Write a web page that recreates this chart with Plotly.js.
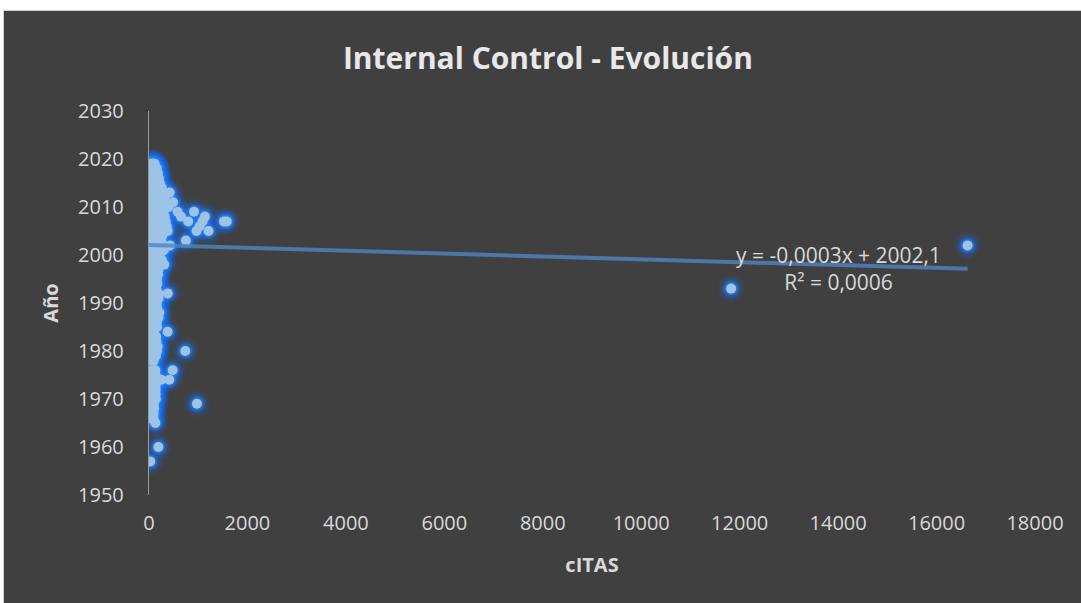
<!DOCTYPE html>
<html>
<head>
<meta charset="utf-8">
<script src="https://cdn.plot.ly/plotly-3.0.1.min.js"></script>
<style>
  html, body { margin: 0; padding: 0; background: #ffffff; width: 1081px; height: 603px; overflow: hidden; }
  #frame { position: absolute; left: 3px; top: 10px; width: 1078px; height: 593px; background: #404040; border-left: 1px solid #d0d0d0; border-top: 1px solid #d0d0d0; }
  #chart { position: absolute; left: 0; top: 0; width: 1077px; height: 592px; }
</style>
</head>
<body>
<div id="frame"><div id="chart"></div></div>
<script>
// Publication year (Año) and citation count (cITAS)
const anio = [
  2019,2019,2019,2019,2019,2019,
  2018,2018,2018,2018,2018,2018,2018,2018,
  2017,2017,2017,2017,2017,2017,2017,2017,
  2016,2016,2016,2016,2016,2016,2016,2016,
  2015,2015,2015,2015,2015,2015,2015,2015,
  2014,2014,2014,2014,2014,2014,2014,2014,
  2013,2013,2013,2013,2013,2013,2013,2013,2013,
  2012,2012,2012,2012,2012,2012,2012,2012,
  2011,2011,2011,2011,2011,2011,2011,2011,2011,
  2010,2010,2010,2010,2010,2010,2010,2010,2010,
  2009,2009,2009,2009,2009,2009,2009,2009,2009,
  2008,2008,2008,2008,2008,2008,2008,2008,2008,
  2007,2007,2007,2007,2007,2007,2007,2007,2007,2007,2007,
  2006,2006,2006,2006,2006,2006,2006,2006,
  2005,2005,2005,2005,2005,2005,2005,2005,2005,
  2004,2004,2004,2004,2004,2004,
  2003,2003,2003,2003,2003,2003,2003,
  2002,2002,2002,2002,2002,2002,2002,2002,
  2001,2001,2001,2001,2001,2001,2001,
  2000,2000,2000,2000,2000,2000,
  1999,1999,1999,1999,1999,1999,1999,
  1998,1998,1998,1998,1998,1998,1998,
  1997,1997,1997,1997,1997,1997,
  1996,1996,1996,1996,1996,1996,
  1995,1995,1995,1995,1995,
  1994,1994,1994,1994,1994,
  1993,1993,1993,1993,1993,
  1992,1992,1992,1992,1992,1992,
  1991,1991,1991,1991,1991,
  1990,1990,1990,1990,
  1989,1989,1989,1989,
  1988,1988,1988,1988,1988,
  1987,1987,1987,1987,1987,
  1986,1986,1986,1986,
  1985,1985,1985,1985,
  1984,1984,1984,
  1983,1983,1983,
  1982,1982,1982,
  1981,1981,1981,1981,
  1980,1980,1980,1980,1980,
  1979,1979,1979,
  1978,1978,
  1976,1976,1976,1976,
  1975,1975,1975,
  1974,1974,1974,1974,1974,
  1973,1973,1973,
  1972,1972,1972,
  1971,1971,1971,
  1970,1970,1970,
  1969,1969,1969,
  1968,1968,
  1967,1967,
  1966,1966,
  1965,
  1960,
  1957
];
const citas = [
  40,55,70,85,100,115,
  35,50,65,80,95,115,140,160,
  30,45,60,80,100,125,150,180,
  30,45,65,85,110,135,165,200,
  25,45,65,90,115,145,180,220,
  25,45,70,95,125,160,200,260,
  30,50,75,100,130,170,220,290,420,
  30,55,80,110,140,180,240,320,
  35,60,90,120,160,210,270,340,490,
  35,60,90,125,170,220,280,350,400,
  40,65,95,130,175,230,300,580,915,
  40,65,100,140,185,240,320,650,1136,
  40,70,105,145,190,250,340,797,1089,1523,1580,
  40,70,110,150,200,260,360,1028,
  40,70,110,155,210,280,380,965,1210,
  35,65,100,145,200,270,
  30,60,95,140,190,250,750,
  30,55,90,130,180,240,425,16630,
  30,55,85,125,170,230,300,
  25,50,80,120,165,220,
  25,50,80,115,160,210,260,
  25,50,80,115,155,200,310,
  25,50,80,115,155,190,
  25,45,75,110,150,185,
  30,55,85,120,160,
  30,60,95,130,170,
  35,65,100,145,11826,
  35,65,100,140,190,380,
  35,65,100,145,195,
  40,75,115,160,
  40,75,115,165,
  35,70,110,155,210,
  35,70,110,150,195,
  40,75,115,160,
  40,75,115,165,
  50,100,378,
  50,95,145,
  50,95,150,
  45,85,130,175,
  40,80,120,165,737,
  45,90,140,
  50,95,
  45,85,130,480,
  45,90,135,
  50,95,180,250,413,
  50,95,140,
  45,90,135,
  45,90,135,
  45,90,140,
  50,100,974,
  55,105,
  50,95,
  45,90,
  130,
  190,
  25
];
// Linear trendline reported on the chart: y = -0,0003x + 2002,1 ; R² = 0,0006
const trendSlope = -0.0003;
const trendIntercept = 2002.1;
const trendLabel = ['y = -0,0003x + 2002,1', 'R² = 0,0006'];
const xTicks = [0,2000,4000,6000,8000,10000,12000,14000,16000,18000];
const yTicks = [1950,1960,1970,1980,1990,2000,2010,2020,2030];

const xMin = 0, xMax = Math.max(...citas);
const trendX = [xMin, xMax];
const trendY = trendX.map(v => trendSlope * v + trendIntercept);

const glowLayers = [
  {size: 28, color: 'rgba(25,110,235,0.07)'},
  {size: 24, color: 'rgba(25,110,235,0.10)'},
  {size: 20, color: 'rgba(25,115,240,0.16)'},
  {size: 16.5, color: 'rgba(30,120,245,0.30)'},
  {size: 13.5, color: 'rgba(40,130,250,0.50)'}
];
const traces = glowLayers.map(g => ({
  type: 'scatter', mode: 'markers', x: citas, y: anio,
  marker: {size: g.size, color: g.color, line: {width: 0}},
  hoverinfo: 'skip', showlegend: false
}));
traces.push({
  type: 'scatter', mode: 'markers', x: citas, y: anio,
  marker: {size: 10, color: '#9dc3e6', line: {width: 0}},
  hoverinfo: 'skip', showlegend: false
});
traces.push({
  type: 'scatter', mode: 'lines', x: trendX, y: trendY,
  line: {color: 'rgba(77,134,194,0.8)', width: 4},
  hoverinfo: 'skip', showlegend: false
});

const fontFam = '"Open Sans", "Noto Sans", sans-serif';
const layout = {
  width: 1077, height: 592,
  paper_bgcolor: '#404040', plot_bgcolor: '#404040',
  margin: {l: 145, r: 46, t: 100, b: 108},
  showlegend: false,
  title: {
    text: '<b>Internal Control - Evolución</b>',
    font: {family: fontFam, size: 30, color: '#e8e8e8'},
    x: 0.505, xanchor: 'center', xref: 'container', y: 0.92, yanchor: 'middle', yref: 'container'
  },
  xaxis: {
    range: [0, 18000], tickvals: xTicks, ticktext: xTicks.map(String),
    showgrid: false, zeroline: false, showline: false, ticks: '',
    tickfont: {family: fontFam, size: 20, color: '#d9d9d9'},
    ticklabelstandoff: 14,
    title: {text: '<b>cITAS</b>', font: {family: fontFam, size: 20, color: '#d9d9d9'}, standoff: 22}
  },
  yaxis: {
    range: [1950, 2030], tickvals: yTicks, ticktext: yTicks.map(String),
    showgrid: false, zeroline: false, showline: true, linecolor: '#9a9a9a', linewidth: 1.2,
    ticks: '', tickfont: {family: fontFam, size: 20, color: '#d9d9d9'},
    ticklabelstandoff: 20,
    title: {text: '<b>Año</b>', font: {family: fontFam, size: 20, color: '#d9d9d9'}, standoff: 14}
  },
  annotations: [{
    x: 14000, y: 1997.2, xref: 'x', yref: 'y',
    text: trendLabel.join('<br>'), showarrow: false, align: 'center',
    font: {family: fontFam, size: 21, color: '#d9d9d9'}
  }]
};
Plotly.newPlot('chart', traces, layout, {displayModeBar: false, staticPlot: true});
</script>
</body>
</html>
